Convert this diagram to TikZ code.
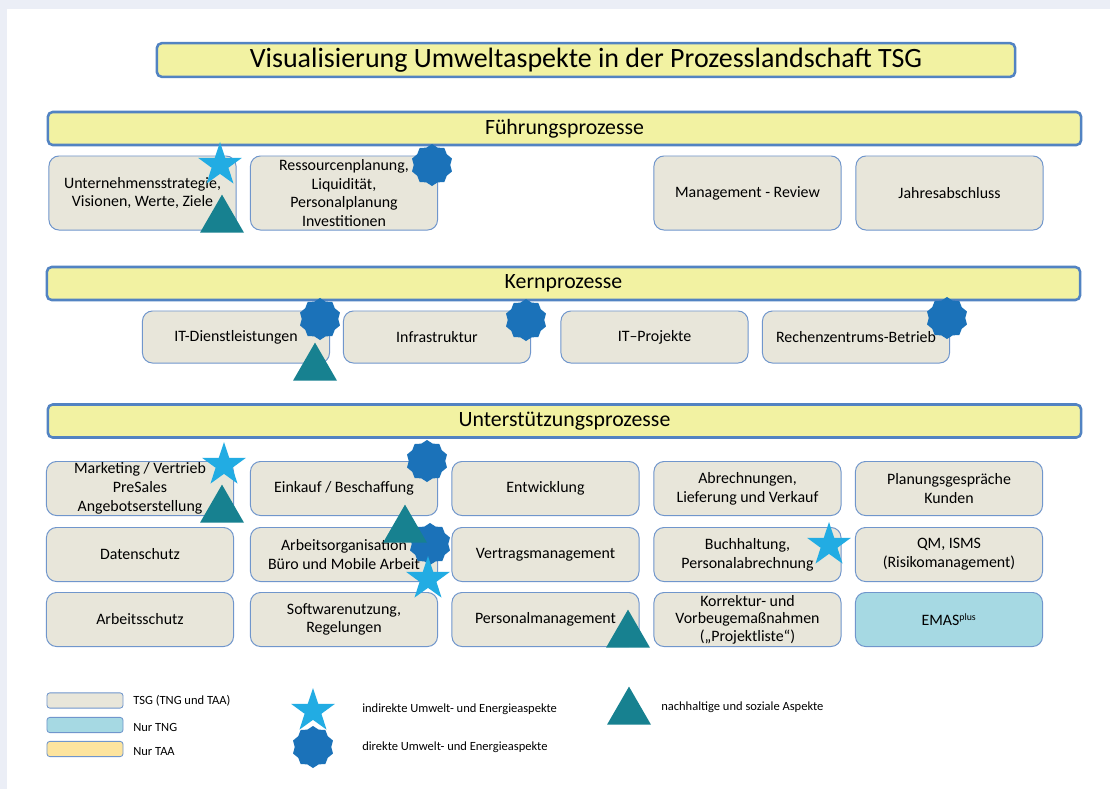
\documentclass[tikz,border=0pt]{standalone}
\usepackage{fontspec}
\setmainfont{Carlito}
\usepackage{xcolor}
\definecolor{bgband}{HTML}{EBEEF6}
\definecolor{boxfill}{HTML}{E8E6DA}
\definecolor{boxline}{HTML}{7096CC}
\definecolor{barfill}{HTML}{F2F2A2}
\definecolor{barline}{HTML}{5283C2}
\definecolor{starblue}{HTML}{22ACE3}
\definecolor{blobblue}{HTML}{1B72B9}
\definecolor{triteal}{HTML}{178190}
\definecolor{emasfill}{HTML}{A6D9E3}
\definecolor{taafill}{HTML}{FDE49E}
\usetikzlibrary{shapes.geometric}

\tikzset{
  procbox/.style={draw=boxline, fill=boxfill, line width=0.7pt, rounded corners=0.25cm,
    minimum width=4.675cm, minimum height=1.35cm, align=center, inner sep=1pt,
    font=\fontsize{11.3}{13.3}\selectfont},
  headbar/.style={draw=barline, fill=barfill, line width=1.8pt, rounded corners=0.12cm,
    minimum width=25.825cm, minimum height=0.825cm, font=\fontsize{15.5}{18}\selectfont},
  indstar/.style={star, star points=5, star point ratio=2.6, fill=starblue,
    minimum size=1.15cm, inner sep=0pt},
  dirblob/.style={star, star points=10, star point ratio=1.15, fill=blobblue,
    minimum size=1.05cm, inner sep=0pt},
  soctri/.style={regular polygon, regular polygon sides=3, fill=triteal,
    minimum size=1.27cm, inner sep=0pt},
  legbox/.style={draw=boxline, line width=0.6pt, rounded corners=0.07cm,
    minimum width=1.9cm, minimum height=0.38cm, inner sep=0pt},
  legtext/.style={anchor=west, inner sep=0pt, font=\fontsize{8.9}{10}\selectfont}
}

\begin{document}
\begin{tikzpicture}[x=0.025cm, y=-0.025cm]
  % page
  \fill[bgband] (0,0) rectangle (1110,789);
  \fill[white] (7,9) rectangle (1110,789);
  \useasboundingbox (0,0) rectangle (1110,789);

  % title and headers
  \node[headbar, minimum width=21.45cm, minimum height=0.8cm, font=\fontsize{19.9}{23}\selectfont]
    (title) at (586,60) {Visualisierung Umweltaspekte in der Prozesslandschaft TSG};
  \node[headbar] (fuehrung) at (564.5,128.5) {Führungsprozesse};
  \node[headbar] (kern) at (563.5,283.5) {Kernprozesse};
  \node[headbar] (unterst) at (564.5,421) {Unterstützungsprozesse};

  % Fuehrungsprozesse
  \node[procbox, minimum height=1.85cm] (strategie) at (142.5,193) {Unternehmensstrategie,\\Visionen, Werte, Ziele};
  \node[procbox, minimum height=1.85cm] (ressourcen) at (344,193) {Ressourcenplanung,\\Liquidität,\\Personalplanung\\Investitionen};
  \node[procbox, minimum height=1.85cm] (review) at (747.5,193) {Management - Review};
  \node[procbox, minimum height=1.85cm] (abschluss) at (949.5,193) {Jahresabschluss};

  % Kernprozesse
  \node[procbox, minimum height=1.3cm] (itdienst) at (236,337) {IT-Dienstleistungen};
  \node[procbox, minimum height=1.3cm] (infra) at (437,337) {Infrastruktur};
  \node[procbox, minimum height=1.3cm] (itprojekte) at (654.5,337) {IT–Projekte};
  \node[procbox, minimum height=1.3cm] (rzbetrieb) at (856,337) {Rechenzentrums-Betrieb};

  % Unterstuetzungsprozesse
  \node[procbox] (marketing) at (140,488.5) {Marketing / Vertrieb\\PreSales\\Angebotserstellung};
  \node[procbox] (einkauf) at (344,488.5) {Einkauf / Beschaffung};
  \node[procbox] (entwicklung) at (545.5,488.5) {Entwicklung};
  \node[procbox] (abrechnung) at (747.5,488.5) {Abrechnungen,\\Lieferung und Verkauf};
  \node[procbox] (planung) at (949,488.5) {Planungsgespräche\\Kunden};

  \node[procbox] (datenschutz) at (140,554.5) {Datenschutz};
  \node[procbox] (arbeitsorg) at (344,554.5) {Arbeitsorganisation\\Büro und Mobile Arbeit};
  \node[procbox] (vertrag) at (545.5,554.5) {Vertragsmanagement};
  \node[procbox] (buchhaltung) at (747.5,554.5) {Buchhaltung,\\Personalabrechnung};
  \node[procbox] (qm) at (949,554.5) {QM, ISMS\\(Risikomanagement)};

  \node[procbox] (arbeitsschutz) at (140,619.5) {Arbeitsschutz};
  \node[procbox] (software) at (344,619.5) {Softwarenutzung,\\Regelungen};
  \node[procbox] (personal) at (545.5,619.5) {Personalmanagement};
  \node[procbox, font=\fontsize{11.3}{12.5}\selectfont] (korrektur) at (747.5,619.5) {Korrektur- und\\Vorbeugemaßnahmen\\(„Projektliste“)};
  \node[procbox, fill=emasfill] (emas) at (949,619.5) {EMAS\textsuperscript{\scriptsize plus}};

  % direkte Aspekte
  \node[dirblob] (blobres) at (432,165) {};
  \node[dirblob] (blobitd) at (320,319) {};
  \node[dirblob] (blobinf) at (526,320) {};
  \node[dirblob] (blobrz) at (947,318) {};
  \node[dirblob] (blobeink) at (427,461) {};
  \node[dirblob] (blobarb) at (430,544) {};

  % nachhaltige Aspekte
  \node[soctri] (tristrat) at (222,220) {};
  \node[soctri] (triitd) at (315,368) {};
  \node[soctri] (trimark) at (222,510) {};
  \node[soctri] (trieink) at (405,530) {};
  \node[soctri] (triperso) at (628,635) {};

  % indirekte Aspekte
  \node[indstar] (starstrat) at (220,165) {};
  \node[indstar] (starmark) at (224,465) {};
  \node[indstar] (stararb) at (428,579) {};
  \node[indstar] (starbuch) at (829,545) {};

  % legend
  \node[legbox, fill=boxfill] (lgtsg) at (85,700.5) {};
  \node[legbox, fill=emasfill] (lgtng) at (85,725) {};
  \node[legbox, fill=taafill] (lgtaa) at (85,749) {};
  \node[legtext] (lgtsgtxt) at (133,701) {TSG (TNG und TAA)};
  \node[legtext] (lgtngtxt) at (133,727) {Nur TNG};
  \node[legtext] (lgtaatxt) at (133,752) {Nur TAA};

  \node[indstar] (lgstar) at (313,711) {};
  \node[dirblob] (lgblob) at (313,747) {};
  \node[soctri] (lgtri) at (629,712) {};
  \node[legtext] (lgstartxt) at (362,709) {indirekte Umwelt- und Energieaspekte};
  \node[legtext] (lgblobtxt) at (362,747) {direkte Umwelt- und Energieaspekte};
  \node[legtext] (lgtritxt) at (661,707) {nachhaltige und soziale Aspekte};
\end{tikzpicture}
\end{document}
